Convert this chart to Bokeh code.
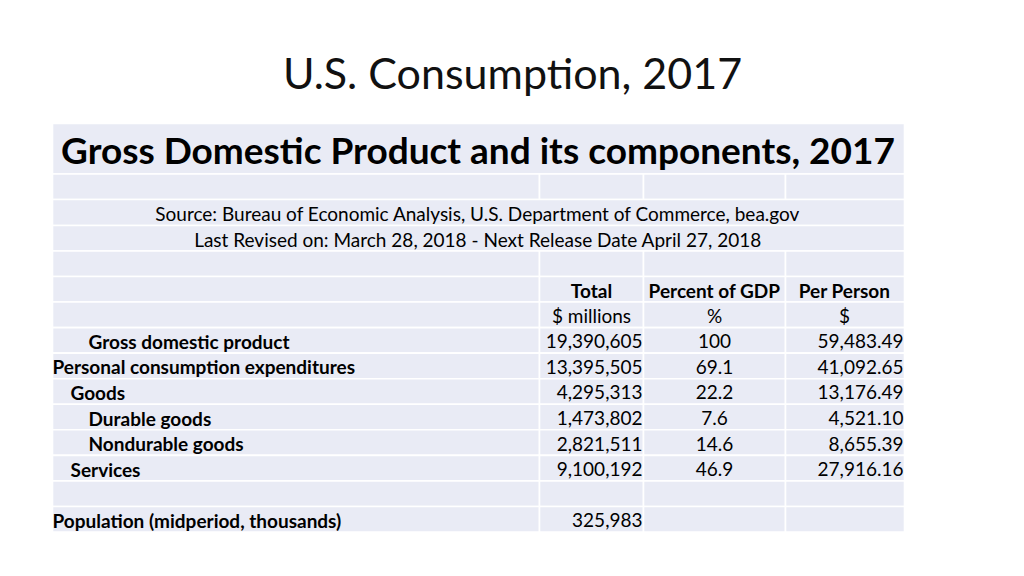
from bokeh.plotting import figure
from bokeh.models import Range1d
from bokeh.core.properties import value
from bokeh.embed import file_html
from bokeh.resources import INLINE

# ---------------- data ----------------
slide_title = "U.S. Consumption, 2017"
table_title = "Gross Domestic Product and its components, 2017"
source_lines = [
    "Source: Bureau of Economic Analysis, U.S. Department of Commerce, bea.gov",
    "Last Revised on: March 28, 2018 - Next Release Date April 27, 2018",
]
col_headers = ["Total", "Percent of GDP", "Per Person"]
col_units = ["$ millions", "%", "$"]

labels = ["Gross domestic product", "Personal consumption expenditures", "Goods",
          "Durable goods", "Nondurable goods", "Services"]
indent_levels = [2, 0, 1, 2, 2, 1]
totals = [19390605, 13395505, 4295313, 1473802, 2821511, 9100192]
pct_gdp = [100, 69.1, 22.2, 7.6, 14.6, 46.9]
per_person = [59483.49, 41092.65, 13176.49, 4521.10, 8655.39, 27916.16]

population_label = "Population (midperiod, thousands)"
population = 325983

# ---------------- layout ----------------
W, H = 1008, 560
FONT = "Lato"
BG = "#E9EBF5"
FS = "19px"

col_edges = [52, 539, 643, 785, 904]
row_edges = [123, 173.5, 199, 225, 250.5, 276]
rh = 25.55
for i in range(10):
    row_edges.append(row_edges[-1] + rh)

p = figure(width=W, height=H, x_range=Range1d(0, W), y_range=Range1d(H, 0),
           output_backend="svg", toolbar_location=None,
           x_axis_location=None, y_axis_location=None, min_border=0)
p.grid.visible = False
p.outline_line_color = None
p.background_fill_color = "white"
p.border_fill_color = "white"

merged_rows = {0, 2, 3}
L, R, T, B = [], [], [], []
for r in range(len(row_edges) - 1):
    if r in merged_rows:
        L.append(col_edges[0]); R.append(col_edges[-1])
        T.append(row_edges[r]); B.append(row_edges[r + 1])
    else:
        for c in range(len(col_edges) - 1):
            L.append(col_edges[c]); R.append(col_edges[c + 1])
            T.append(row_edges[r]); B.append(row_edges[r + 1])
p.quad(left=L, right=R, top=T, bottom=B, fill_color=BG, line_color="white", line_width=1.6)

def mid(r):
    return (row_edges[r] + row_edges[r + 1]) / 2 + 1

def txt(x, y, t, size=FS, bold=False, align="left", color="black"):
    p.text(x=x, y=y, text=t, text_font=value(FONT), text_font_size=size,
           text_font_style="bold" if bold else "normal", text_align=align,
           text_baseline="middle", text_color=color)

# slide title
txt([512], [72], [slide_title], size="43px", align="center", color="#111111")

# table title
txt([477.5], [mid(0)], [table_title], size="37px", bold=True, align="center")

# source lines
txt([477.5, 477.5], [mid(2), mid(3)], source_lines, align="center")

# column headers
hx = [591, 714, 844]
txt(hx, [mid(5)] * 3, col_headers, bold=True, align="center")
txt(hx, [mid(6)] * 3, col_units, align="center")

# data rows
ys = [mid(7 + i) for i in range(len(labels))]
indent_px = {0: 52, 1: 70, 2: 88}
txt([indent_px[l] for l in indent_levels], ys, labels, bold=True)
txt([642] * len(totals), ys, [f"{v:,}" for v in totals], align="right")
txt([714] * len(pct_gdp), ys, [f"{v:g}" for v in pct_gdp], align="center")
txt([903] * len(per_person), ys, [f"{v:,.2f}" for v in per_person], align="right")

# population row
pr = 7 + len(labels) + 1
txt([52], [mid(pr)], [population_label], bold=True)
txt([642], [mid(pr)], [f"{population:,}"], align="right")

open("out.html", "w").write(file_html(p, INLINE))
